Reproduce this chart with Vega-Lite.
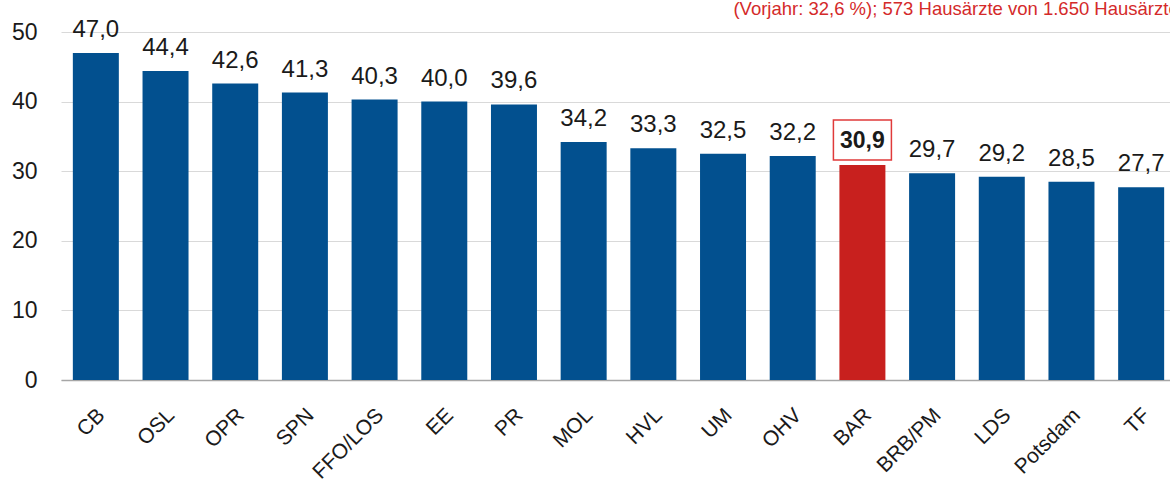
{
  "$schema": "https://vega.github.io/schema/vega-lite/v6.json",
  "width": 1115,
  "height": 348,
  "autosize": {"type": "none"},
  "padding": {"left": 61, "top": 32, "right": 0, "bottom": 100},
  "background": "white",
  "config": {
    "view": {"stroke": null},
    "font": "Liberation Sans",
    "locale": {"number": {"decimal": ",", "thousands": ".", "grouping": [3], "currency": ["", " €"]}}
  },
  "title": {
    "text": "(Vorjahr: 32,6 %); 573  Hausärzte von 1.650  Hausärzten",
    "anchor": "start",
    "dx": 722,
    "dy": 16,
    "offset": 0,
    "baseline": "alphabetic",
    "fontSize": 18.5,
    "fontWeight": "normal",
    "color": "#d42a2a",
    "font": "Liberation Sans"
  },
  "data": {
    "values": [
      {"region": "CB", "value": 47.0},
      {"region": "OSL", "value": 44.4},
      {"region": "OPR", "value": 42.6},
      {"region": "SPN", "value": 41.3},
      {"region": "FFO/LOS", "value": 40.3},
      {"region": "EE", "value": 40.0},
      {"region": "PR", "value": 39.6},
      {"region": "MOL", "value": 34.2},
      {"region": "HVL", "value": 33.3},
      {"region": "UM", "value": 32.5},
      {"region": "OHV", "value": 32.2},
      {"region": "BAR", "value": 30.9},
      {"region": "BRB/PM", "value": 29.7},
      {"region": "LDS", "value": 29.2},
      {"region": "Potsdam", "value": 28.5},
      {"region": "TF", "value": 27.7}
    ]
  },
  "encoding": {
    "x": {
      "field": "region",
      "type": "nominal",
      "sort": null,
      "scale": {"paddingInner": 0.34, "paddingOuter": 0.17},
      "axis": {
        "title": null,
        "labelAngle": -45,
        "labelAlign": "right",
        "labelBaseline": "top",
        "labelFontSize": 21,
        "labelColor": "#1a1a1a",
        "labelPadding": 24,
        "labelOffset": -2,
        "ticks": false,
        "domainColor": "#a6a6a6",
        "domainWidth": 1.5,
        "grid": false
      }
    },
    "y": {
      "field": "value",
      "type": "quantitative",
      "scale": {"domain": [0, 50], "nice": false},
      "axis": {
        "title": null,
        "values": [0, 10, 20, 30, 40, 50],
        "labelFontSize": 23,
        "labelColor": "#1a1a1a",
        "labelPadding": 24,
        "ticks": false,
        "domain": false,
        "gridColor": "#d9d9d9",
        "gridWidth": 1.2
      }
    }
  },
  "layer": [
    {
      "mark": {"type": "bar"},
      "encoding": {
        "color": {
          "condition": {"test": "datum.region === 'BAR'", "value": "#c8201e"},
          "value": "#02508f"
        }
      }
    },
    {
      "transform": [{"filter": "datum.region === 'BAR'"}],
      "mark": {
        "type": "point",
        "shape": "M-1,-0.69H1V0.69H-1Z",
        "size": 3364,
        "filled": false,
        "stroke": "#e03a3a",
        "strokeWidth": 1.5,
        "opacity": 1,
        "yOffset": -25
      }
    },
    {
      "transform": [{"filter": "datum.region !== 'BAR'"}],
      "mark": {"type": "text", "baseline": "alphabetic", "dy": -16, "fontSize": 24, "color": "#1a1a1a"},
      "encoding": {"text": {"field": "value", "type": "quantitative", "format": ".1f"}}
    },
    {
      "transform": [{"filter": "datum.region === 'BAR'"}],
      "mark": {"type": "text", "baseline": "alphabetic", "dy": -17, "fontSize": 23, "fontWeight": "bold", "color": "#1a1a1a"},
      "encoding": {"text": {"field": "value", "type": "quantitative", "format": ".1f"}}
    }
  ]
}
